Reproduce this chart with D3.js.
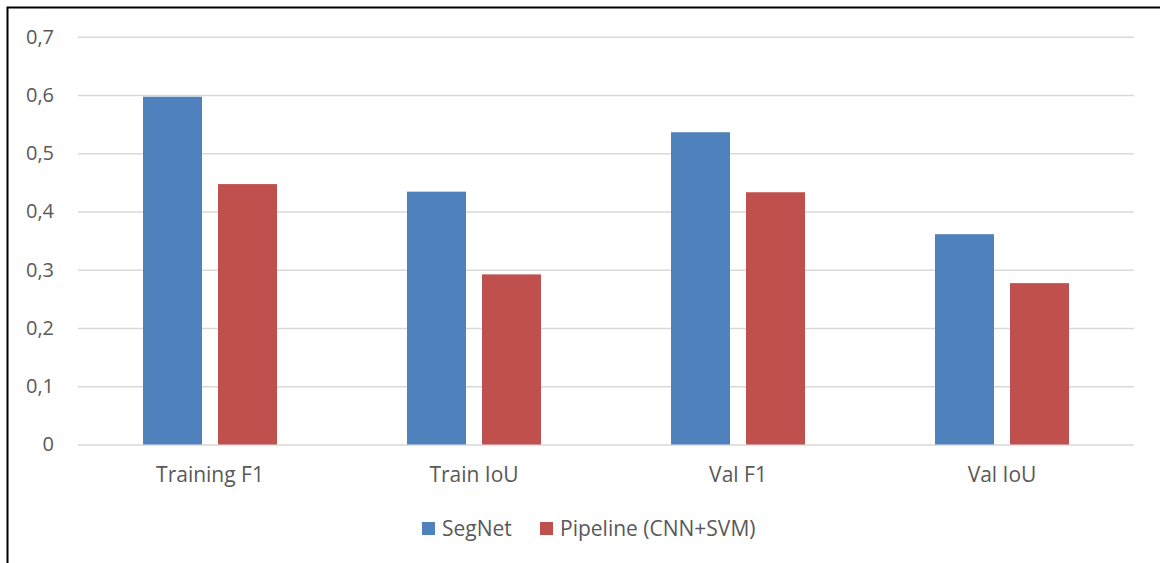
<!DOCTYPE html>
<html>
<head>
<meta charset="utf-8">
<script src="https://cdn.jsdelivr.net/npm/d3@7"></script>
<style>
  html, body { margin: 0; padding: 0; background: #fff; }
  svg { display: block; }
  text { font-family: "Open Sans", Lato, sans-serif; fill: #595959; }
</style>
</head>
<body>
<svg id="chart" width="1160" height="563"></svg>
<script>
// Metric names along the x axis
const categories = ["Training F1", "Train IoU", "Val F1", "Val IoU"];
// Series
const seriesNames = ["SegNet", "Pipeline (CNN+SVM)"];
const segnetValues = [0.597, 0.434, 0.536, 0.361];
const pipelineValues = [0.447, 0.292, 0.433, 0.277];
// Y axis ticks
const yTicks = [0, 0.1, 0.2, 0.3, 0.4, 0.5, 0.6, 0.7];
const colors = ["#4f81bd", "#c0504d"];

const FONT = "'Open Sans', Lato, sans-serif";

const svg = d3.select("#chart");
const W = 1160, H = 563;

// Frame (left and top edges visible)
svg.append("rect")
  .attr("x", 7.5).attr("y", 7.5)
  .attr("width", W + 20).attr("height", H + 20)
  .attr("fill", "none").attr("stroke", "#000").attr("stroke-width", 2);

const plot = { left: 78, right: 1134, top: 36.7, bottom: 444.5 };

const x = d3.scaleBand()
  .domain(categories)
  .range([plot.left, plot.right])
  .paddingInner(0).paddingOuter(0);

const y = d3.scaleLinear()
  .domain([0, 0.7])
  .range([plot.bottom, plot.top]);

const fmt = v => (v === 0 ? "0" : d3.format(".1f")(v).replace(".", ","));

// Gridlines + tick labels via axis
const yAxis = d3.axisLeft(y)
  .tickValues(yTicks)
  .tickSize(-(plot.right - plot.left))
  .tickPadding(24)
  .tickFormat(fmt);

const gy = svg.append("g")
  .attr("transform", `translate(${plot.left},0)`)
  .call(yAxis);
gy.select(".domain").remove();
gy.selectAll(".tick line").attr("stroke", "#d9d9d9").attr("stroke-width", 1.5);
gy.selectAll(".tick text")
  .attr("font-size", 20).attr("fill", "#595959")
  .attr("font-family", FONT);

// Bars: two per category, centred on the band
const barW = 59, gap = 16;
const series = [segnetValues, pipelineValues];

series.forEach((vals, si) => {
  svg.append("g").selectAll("rect")
    .data(vals.map((v, i) => ({ cat: categories[i], v })))
    .join("rect")
    .attr("x", d => x(d.cat) + x.bandwidth() / 2 - (barW + gap / 2) + si * (barW + gap))
    .attr("y", d => y(d.v))
    .attr("width", barW)
    .attr("height", d => y(0) - y(d.v))
    .attr("fill", colors[si]);
});

// Category labels
const xAxis = d3.axisBottom(x).tickSize(0).tickPadding(23);
const gx = svg.append("g")
  .attr("transform", `translate(0,${plot.bottom})`)
  .call(xAxis);
gx.select(".domain").remove();
gx.selectAll(".tick text")
  .attr("font-size", 21).attr("fill", "#595959")
  .attr("font-family", FONT);

// Legend
const legend = svg.append("g");
const legendItems = [
  { name: seriesNames[0], color: colors[0], x: 422 },
  { name: seriesNames[1], color: colors[1], x: 540 }
];
legendItems.forEach(it => {
  legend.append("rect")
    .attr("x", it.x).attr("y", 522)
    .attr("width", 13).attr("height", 13)
    .attr("fill", it.color);
  legend.append("text")
    .attr("x", it.x + 20).attr("y", 535.5)
    .attr("font-size", 21)
    .text(it.name);
});
</script>
</body>
</html>
